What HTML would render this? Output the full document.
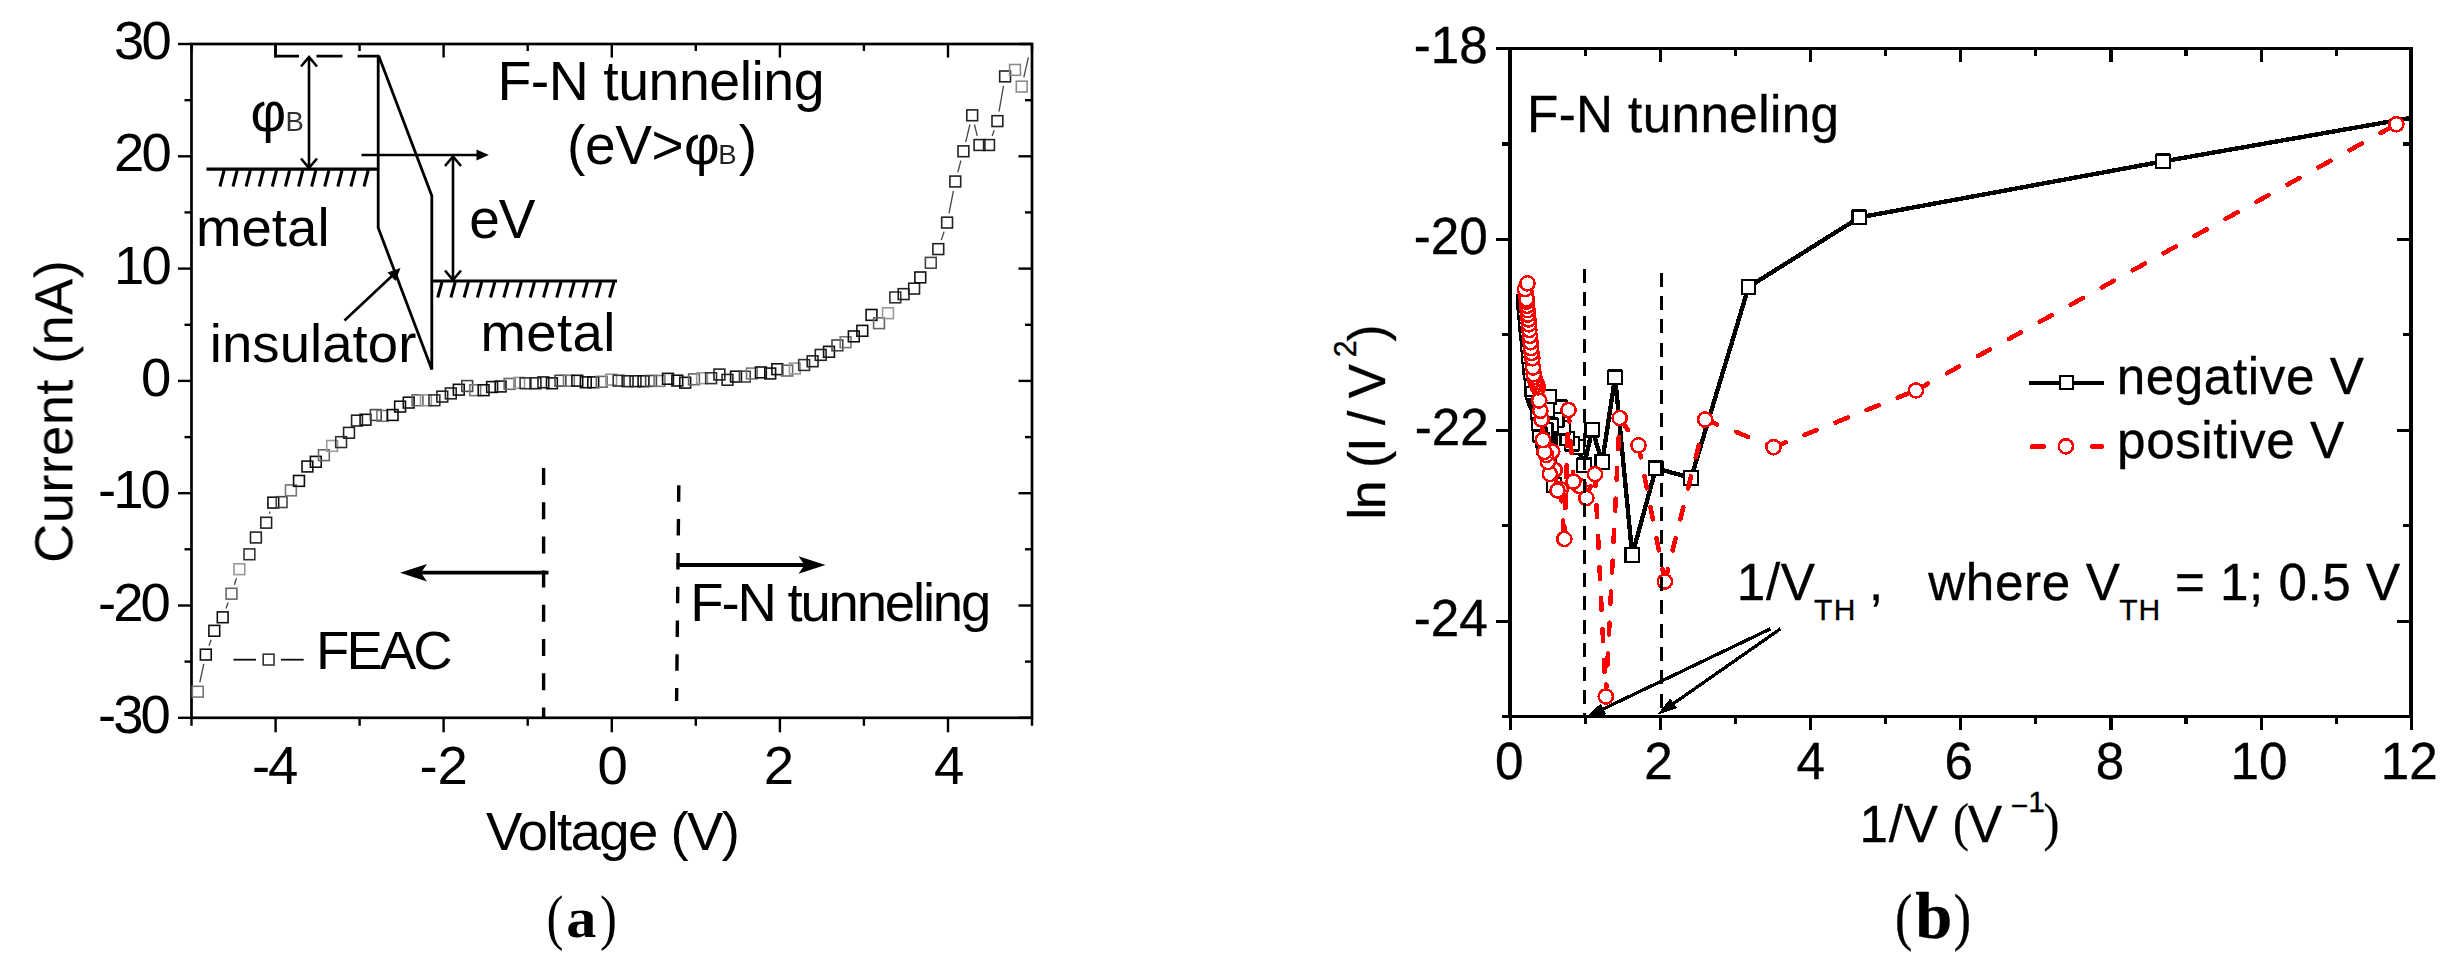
<!DOCTYPE html>
<html lang="en"><head><meta charset="utf-8"><title>F-N tunneling figure</title>
<style>
html,body{margin:0;padding:0;background:#fff;}
body{width:2456px;height:961px;overflow:hidden;}
svg{display:block;}
#plot-b text{stroke:#000;stroke-width:0.35px;}
</style></head><body>
<svg width="2456" height="961" viewBox="0 0 2456 961">
<defs><filter id="soft" x="0" y="0" width="2456" height="961" filterUnits="userSpaceOnUse"><feGaussianBlur stdDeviation="0.75"/></filter></defs>
<rect width="2456" height="961" fill="#fff"/>
<g id="plot-a" filter="url(#soft)">
<rect x="191.5" y="44.0" width="840.5" height="673.8" fill="none" stroke="#000" stroke-width="2.7"/>
<line x1="178.0" y1="717.8" x2="191.5" y2="717.8" stroke="#000" stroke-width="2.4" />
<line x1="1018.5" y1="717.8" x2="1032.0" y2="717.8" stroke="#000" stroke-width="2.4" />
<line x1="184.5" y1="661.6" x2="191.5" y2="661.6" stroke="#000" stroke-width="2.4" />
<line x1="1025.0" y1="661.6" x2="1032.0" y2="661.6" stroke="#000" stroke-width="2.4" />
<line x1="178.0" y1="605.5" x2="191.5" y2="605.5" stroke="#000" stroke-width="2.4" />
<line x1="1018.5" y1="605.5" x2="1032.0" y2="605.5" stroke="#000" stroke-width="2.4" />
<line x1="184.5" y1="549.3" x2="191.5" y2="549.3" stroke="#000" stroke-width="2.4" />
<line x1="1025.0" y1="549.3" x2="1032.0" y2="549.3" stroke="#000" stroke-width="2.4" />
<line x1="178.0" y1="493.2" x2="191.5" y2="493.2" stroke="#000" stroke-width="2.4" />
<line x1="1018.5" y1="493.2" x2="1032.0" y2="493.2" stroke="#000" stroke-width="2.4" />
<line x1="184.5" y1="437.1" x2="191.5" y2="437.1" stroke="#000" stroke-width="2.4" />
<line x1="1025.0" y1="437.1" x2="1032.0" y2="437.1" stroke="#000" stroke-width="2.4" />
<line x1="178.0" y1="380.9" x2="191.5" y2="380.9" stroke="#000" stroke-width="2.4" />
<line x1="1018.5" y1="380.9" x2="1032.0" y2="380.9" stroke="#000" stroke-width="2.4" />
<line x1="184.5" y1="324.8" x2="191.5" y2="324.8" stroke="#000" stroke-width="2.4" />
<line x1="1025.0" y1="324.8" x2="1032.0" y2="324.8" stroke="#000" stroke-width="2.4" />
<line x1="178.0" y1="268.6" x2="191.5" y2="268.6" stroke="#000" stroke-width="2.4" />
<line x1="1018.5" y1="268.6" x2="1032.0" y2="268.6" stroke="#000" stroke-width="2.4" />
<line x1="184.5" y1="212.4" x2="191.5" y2="212.4" stroke="#000" stroke-width="2.4" />
<line x1="1025.0" y1="212.4" x2="1032.0" y2="212.4" stroke="#000" stroke-width="2.4" />
<line x1="178.0" y1="156.3" x2="191.5" y2="156.3" stroke="#000" stroke-width="2.4" />
<line x1="1018.5" y1="156.3" x2="1032.0" y2="156.3" stroke="#000" stroke-width="2.4" />
<line x1="184.5" y1="100.2" x2="191.5" y2="100.2" stroke="#000" stroke-width="2.4" />
<line x1="1025.0" y1="100.2" x2="1032.0" y2="100.2" stroke="#000" stroke-width="2.4" />
<line x1="178.0" y1="44.0" x2="191.5" y2="44.0" stroke="#000" stroke-width="2.4" />
<line x1="1018.5" y1="44.0" x2="1032.0" y2="44.0" stroke="#000" stroke-width="2.4" />
<line x1="191.5" y1="717.8" x2="191.5" y2="725.8" stroke="#000" stroke-width="2.4" />
<line x1="191.5" y1="44.0" x2="191.5" y2="51.0" stroke="#000" stroke-width="2.4" />
<line x1="275.6" y1="717.8" x2="275.6" y2="732.3" stroke="#000" stroke-width="2.4" />
<line x1="275.6" y1="44.0" x2="275.6" y2="57.5" stroke="#000" stroke-width="2.4" />
<line x1="359.6" y1="717.8" x2="359.6" y2="725.8" stroke="#000" stroke-width="2.4" />
<line x1="359.6" y1="44.0" x2="359.6" y2="51.0" stroke="#000" stroke-width="2.4" />
<line x1="443.6" y1="717.8" x2="443.6" y2="732.3" stroke="#000" stroke-width="2.4" />
<line x1="443.6" y1="44.0" x2="443.6" y2="57.5" stroke="#000" stroke-width="2.4" />
<line x1="527.7" y1="717.8" x2="527.7" y2="725.8" stroke="#000" stroke-width="2.4" />
<line x1="527.7" y1="44.0" x2="527.7" y2="51.0" stroke="#000" stroke-width="2.4" />
<line x1="611.8" y1="717.8" x2="611.8" y2="732.3" stroke="#000" stroke-width="2.4" />
<line x1="611.8" y1="44.0" x2="611.8" y2="57.5" stroke="#000" stroke-width="2.4" />
<line x1="695.8" y1="717.8" x2="695.8" y2="725.8" stroke="#000" stroke-width="2.4" />
<line x1="695.8" y1="44.0" x2="695.8" y2="51.0" stroke="#000" stroke-width="2.4" />
<line x1="779.9" y1="717.8" x2="779.9" y2="732.3" stroke="#000" stroke-width="2.4" />
<line x1="779.9" y1="44.0" x2="779.9" y2="57.5" stroke="#000" stroke-width="2.4" />
<line x1="863.9" y1="717.8" x2="863.9" y2="725.8" stroke="#000" stroke-width="2.4" />
<line x1="863.9" y1="44.0" x2="863.9" y2="51.0" stroke="#000" stroke-width="2.4" />
<line x1="948.0" y1="717.8" x2="948.0" y2="732.3" stroke="#000" stroke-width="2.4" />
<line x1="948.0" y1="44.0" x2="948.0" y2="57.5" stroke="#000" stroke-width="2.4" />
<line x1="1032.0" y1="717.8" x2="1032.0" y2="725.8" stroke="#000" stroke-width="2.4" />
<line x1="1032.0" y1="44.0" x2="1032.0" y2="51.0" stroke="#000" stroke-width="2.4" />
<text x="97.9" y="732.8" font-size="54.5" fill="#000" font-family='"Liberation Sans", sans-serif' font-weight="normal" style="letter-spacing:-2.90px">-30</text>
<text x="97.9" y="620.5" font-size="54.5" fill="#000" font-family='"Liberation Sans", sans-serif' font-weight="normal" style="letter-spacing:-2.90px">-20</text>
<text x="97.9" y="508.2" font-size="54.5" fill="#000" font-family='"Liberation Sans", sans-serif' font-weight="normal" style="letter-spacing:-2.90px">-10</text>
<text x="141.1" y="395.9" font-size="54.5" fill="#000" font-family='"Liberation Sans", sans-serif' font-weight="normal" style="letter-spacing:-2.90px">0</text>
<text x="114.0" y="283.6" font-size="54.5" fill="#000" font-family='"Liberation Sans", sans-serif' font-weight="normal" style="letter-spacing:-2.90px">10</text>
<text x="114.0" y="171.3" font-size="54.5" fill="#000" font-family='"Liberation Sans", sans-serif' font-weight="normal" style="letter-spacing:-2.90px">20</text>
<text x="114.0" y="59.0" font-size="54.5" fill="#000" font-family='"Liberation Sans", sans-serif' font-weight="normal" style="letter-spacing:-2.90px">30</text>
<text x="252.0" y="784.2" font-size="54.5" fill="#000" font-family='"Liberation Sans", sans-serif' font-weight="normal" style="letter-spacing:-2.20px">-4</text>
<text x="419.5" y="784.2" font-size="54.5" fill="#000" font-family='"Liberation Sans", sans-serif' font-weight="normal" style="letter-spacing:-0.20px">-2</text>
<text x="597.5" y="784.2" font-size="54.5" fill="#000" font-family='"Liberation Sans", sans-serif' font-weight="normal" style="">0</text>
<text x="763.8" y="784.2" font-size="54.5" fill="#000" font-family='"Liberation Sans", sans-serif' font-weight="normal" style="">2</text>
<text x="934.1" y="784.2" font-size="54.5" fill="#000" font-family='"Liberation Sans", sans-serif' font-weight="normal" style="">4</text>
<text x="485.9" y="850.3" font-size="54.5" fill="#000" font-family='"Liberation Sans", sans-serif' font-weight="normal" style="letter-spacing:-1.56px">Voltage (V)</text>
<text transform="translate(72.4,563.0) rotate(-90)" font-size="54.5" fill="#000" font-family='"Liberation Sans", sans-serif' font-weight="normal" style="letter-spacing:0.27px">Current (nA)</text>
<line x1="199.8" y1="682.4" x2="203.8" y2="663.9" stroke="#444" stroke-width="1.3" />
<line x1="209.0" y1="645.7" x2="211.1" y2="639.7" stroke="#444" stroke-width="1.3" />
<line x1="226.0" y1="608.4" x2="228.2" y2="602.6" stroke="#444" stroke-width="1.3" />
<line x1="234.4" y1="584.7" x2="236.5" y2="578.2" stroke="#444" stroke-width="1.3" />
<line x1="269.4" y1="513.7" x2="270.1" y2="511.6" stroke="#444" stroke-width="1.3" />
<line x1="941.3" y1="240.1" x2="944.1" y2="231.6" stroke="#444" stroke-width="1.3" />
<line x1="949.0" y1="213.3" x2="953.4" y2="190.8" stroke="#444" stroke-width="1.3" />
<line x1="957.8" y1="172.3" x2="960.9" y2="160.5" stroke="#444" stroke-width="1.3" />
<line x1="965.7" y1="142.1" x2="969.9" y2="124.5" stroke="#444" stroke-width="1.3" />
<line x1="974.5" y1="124.5" x2="977.2" y2="135.8" stroke="#444" stroke-width="1.3" />
<line x1="992.2" y1="136.0" x2="994.2" y2="130.1" stroke="#444" stroke-width="1.3" />
<line x1="999.0" y1="111.7" x2="1003.5" y2="85.8" stroke="#444" stroke-width="1.3" />
<line x1="1023.8" y1="77.3" x2="1028.4" y2="57.3" stroke="#444" stroke-width="1.3" />
<rect x="192.4" y="686.3" width="10.8" height="10.8" fill="none" stroke="#777" stroke-width="1.6"/>
<rect x="200.4" y="649.2" width="10.8" height="10.8" fill="none" stroke="#111" stroke-width="1.6"/>
<rect x="208.9" y="625.4" width="10.8" height="10.8" fill="none" stroke="#111" stroke-width="1.6"/>
<rect x="217.3" y="611.9" width="10.8" height="10.8" fill="none" stroke="#111" stroke-width="1.6"/>
<rect x="226.1" y="588.3" width="10.8" height="10.8" fill="none" stroke="#666" stroke-width="1.6"/>
<rect x="234.0" y="563.8" width="10.8" height="10.8" fill="none" stroke="#999" stroke-width="1.6"/>
<rect x="244.0" y="548.9" width="10.8" height="10.8" fill="none" stroke="#333" stroke-width="1.6"/>
<rect x="250.5" y="532.1" width="10.8" height="10.8" fill="none" stroke="#222" stroke-width="1.6"/>
<rect x="260.8" y="517.3" width="10.8" height="10.8" fill="none" stroke="#222" stroke-width="1.6"/>
<rect x="267.9" y="497.2" width="10.8" height="10.8" fill="none" stroke="#111" stroke-width="1.6"/>
<rect x="276.2" y="496.7" width="10.8" height="10.8" fill="none" stroke="#444" stroke-width="1.6"/>
<rect x="285.5" y="485.0" width="10.8" height="10.8" fill="none" stroke="#777" stroke-width="1.6"/>
<rect x="293.6" y="475.5" width="10.8" height="10.8" fill="none" stroke="#111" stroke-width="1.6"/>
<rect x="302.0" y="461.1" width="10.8" height="10.8" fill="none" stroke="#111" stroke-width="1.6"/>
<rect x="310.4" y="456.4" width="10.8" height="10.8" fill="none" stroke="#111" stroke-width="1.6"/>
<rect x="318.5" y="449.8" width="10.8" height="10.8" fill="none" stroke="#666" stroke-width="1.6"/>
<rect x="326.7" y="440.5" width="10.8" height="10.8" fill="none" stroke="#999" stroke-width="1.6"/>
<rect x="335.7" y="436.7" width="10.8" height="10.8" fill="none" stroke="#333" stroke-width="1.6"/>
<rect x="343.6" y="427.4" width="10.8" height="10.8" fill="none" stroke="#222" stroke-width="1.6"/>
<rect x="351.6" y="415.2" width="10.8" height="10.8" fill="none" stroke="#222" stroke-width="1.6"/>
<rect x="360.1" y="414.3" width="10.8" height="10.8" fill="none" stroke="#111" stroke-width="1.6"/>
<rect x="370.4" y="409.6" width="10.8" height="10.8" fill="none" stroke="#444" stroke-width="1.6"/>
<rect x="376.9" y="410.5" width="10.8" height="10.8" fill="none" stroke="#777" stroke-width="1.6"/>
<rect x="387.2" y="409.6" width="10.8" height="10.8" fill="none" stroke="#111" stroke-width="1.6"/>
<rect x="394.7" y="401.2" width="10.8" height="10.8" fill="none" stroke="#111" stroke-width="1.6"/>
<rect x="403.3" y="397.2" width="10.8" height="10.8" fill="none" stroke="#111" stroke-width="1.6"/>
<rect x="412.1" y="394.9" width="10.8" height="10.8" fill="none" stroke="#666" stroke-width="1.6"/>
<rect x="420.5" y="394.9" width="10.8" height="10.8" fill="none" stroke="#999" stroke-width="1.6"/>
<rect x="429.0" y="394.9" width="10.8" height="10.8" fill="none" stroke="#333" stroke-width="1.6"/>
<rect x="436.9" y="391.2" width="10.8" height="10.8" fill="none" stroke="#222" stroke-width="1.6"/>
<rect x="445.4" y="388.0" width="10.8" height="10.8" fill="none" stroke="#222" stroke-width="1.6"/>
<rect x="453.4" y="384.3" width="10.8" height="10.8" fill="none" stroke="#111" stroke-width="1.6"/>
<rect x="461.8" y="380.6" width="10.8" height="10.8" fill="none" stroke="#444" stroke-width="1.6"/>
<rect x="469.8" y="384.8" width="10.8" height="10.8" fill="none" stroke="#777" stroke-width="1.6"/>
<rect x="478.2" y="384.8" width="10.8" height="10.8" fill="none" stroke="#111" stroke-width="1.6"/>
<rect x="486.7" y="381.6" width="10.8" height="10.8" fill="none" stroke="#111" stroke-width="1.6"/>
<rect x="495.2" y="381.1" width="10.8" height="10.8" fill="none" stroke="#111" stroke-width="1.6"/>
<rect x="504.2" y="378.5" width="10.8" height="10.8" fill="none" stroke="#666" stroke-width="1.6"/>
<rect x="513.7" y="377.4" width="10.8" height="10.8" fill="none" stroke="#999" stroke-width="1.6"/>
<rect x="520.1" y="377.9" width="10.8" height="10.8" fill="none" stroke="#333" stroke-width="1.6"/>
<rect x="530.1" y="377.9" width="10.8" height="10.8" fill="none" stroke="#222" stroke-width="1.6"/>
<rect x="538.0" y="376.9" width="10.8" height="10.8" fill="none" stroke="#222" stroke-width="1.6"/>
<rect x="546.5" y="377.9" width="10.8" height="10.8" fill="none" stroke="#111" stroke-width="1.6"/>
<rect x="555.0" y="375.3" width="10.8" height="10.8" fill="none" stroke="#444" stroke-width="1.6"/>
<rect x="563.5" y="375.3" width="10.8" height="10.8" fill="none" stroke="#777" stroke-width="1.6"/>
<rect x="571.9" y="375.3" width="10.8" height="10.8" fill="none" stroke="#111" stroke-width="1.6"/>
<rect x="580.4" y="376.9" width="10.8" height="10.8" fill="none" stroke="#111" stroke-width="1.6"/>
<rect x="587.8" y="376.9" width="10.8" height="10.8" fill="none" stroke="#111" stroke-width="1.6"/>
<rect x="596.3" y="376.4" width="10.8" height="10.8" fill="none" stroke="#666" stroke-width="1.6"/>
<rect x="605.8" y="374.2" width="10.8" height="10.8" fill="none" stroke="#999" stroke-width="1.6"/>
<rect x="613.2" y="375.3" width="10.8" height="10.8" fill="none" stroke="#333" stroke-width="1.6"/>
<rect x="622.2" y="375.8" width="10.8" height="10.8" fill="none" stroke="#222" stroke-width="1.6"/>
<rect x="630.1" y="375.8" width="10.8" height="10.8" fill="none" stroke="#222" stroke-width="1.6"/>
<rect x="638.1" y="375.8" width="10.8" height="10.8" fill="none" stroke="#111" stroke-width="1.6"/>
<rect x="645.6" y="375.5" width="10.8" height="10.8" fill="none" stroke="#444" stroke-width="1.6"/>
<rect x="654.1" y="375.5" width="10.8" height="10.8" fill="none" stroke="#777" stroke-width="1.6"/>
<rect x="662.6" y="373.4" width="10.8" height="10.8" fill="none" stroke="#111" stroke-width="1.6"/>
<rect x="671.9" y="375.2" width="10.8" height="10.8" fill="none" stroke="#111" stroke-width="1.6"/>
<rect x="679.8" y="377.3" width="10.8" height="10.8" fill="none" stroke="#111" stroke-width="1.6"/>
<rect x="688.6" y="373.9" width="10.8" height="10.8" fill="none" stroke="#666" stroke-width="1.6"/>
<rect x="696.7" y="372.8" width="10.8" height="10.8" fill="none" stroke="#999" stroke-width="1.6"/>
<rect x="705.7" y="372.8" width="10.8" height="10.8" fill="none" stroke="#333" stroke-width="1.6"/>
<rect x="714.0" y="369.1" width="10.8" height="10.8" fill="none" stroke="#222" stroke-width="1.6"/>
<rect x="722.1" y="374.4" width="10.8" height="10.8" fill="none" stroke="#222" stroke-width="1.6"/>
<rect x="730.6" y="371.2" width="10.8" height="10.8" fill="none" stroke="#111" stroke-width="1.6"/>
<rect x="739.4" y="371.2" width="10.8" height="10.8" fill="none" stroke="#444" stroke-width="1.6"/>
<rect x="746.5" y="368.1" width="10.8" height="10.8" fill="none" stroke="#777" stroke-width="1.6"/>
<rect x="755.5" y="367.0" width="10.8" height="10.8" fill="none" stroke="#111" stroke-width="1.6"/>
<rect x="764.8" y="368.1" width="10.8" height="10.8" fill="none" stroke="#111" stroke-width="1.6"/>
<rect x="771.9" y="363.8" width="10.8" height="10.8" fill="none" stroke="#111" stroke-width="1.6"/>
<rect x="781.8" y="365.2" width="10.8" height="10.8" fill="none" stroke="#666" stroke-width="1.6"/>
<rect x="789.4" y="363.1" width="10.8" height="10.8" fill="none" stroke="#999" stroke-width="1.6"/>
<rect x="798.7" y="359.6" width="10.8" height="10.8" fill="none" stroke="#333" stroke-width="1.6"/>
<rect x="807.2" y="355.9" width="10.8" height="10.8" fill="none" stroke="#222" stroke-width="1.6"/>
<rect x="815.3" y="349.5" width="10.8" height="10.8" fill="none" stroke="#222" stroke-width="1.6"/>
<rect x="823.6" y="346.4" width="10.8" height="10.8" fill="none" stroke="#111" stroke-width="1.6"/>
<rect x="832.0" y="340.0" width="10.8" height="10.8" fill="none" stroke="#444" stroke-width="1.6"/>
<rect x="840.2" y="336.8" width="10.8" height="10.8" fill="none" stroke="#777" stroke-width="1.6"/>
<rect x="848.4" y="331.0" width="10.8" height="10.8" fill="none" stroke="#111" stroke-width="1.6"/>
<rect x="856.9" y="325.4" width="10.8" height="10.8" fill="none" stroke="#111" stroke-width="1.6"/>
<rect x="866.1" y="309.5" width="10.8" height="10.8" fill="none" stroke="#111" stroke-width="1.6"/>
<rect x="873.6" y="317.8" width="10.8" height="10.8" fill="none" stroke="#666" stroke-width="1.6"/>
<rect x="882.6" y="307.8" width="10.8" height="10.8" fill="none" stroke="#999" stroke-width="1.6"/>
<rect x="889.9" y="292.0" width="10.8" height="10.8" fill="none" stroke="#333" stroke-width="1.6"/>
<rect x="898.2" y="288.7" width="10.8" height="10.8" fill="none" stroke="#222" stroke-width="1.6"/>
<rect x="908.7" y="283.2" width="10.8" height="10.8" fill="none" stroke="#222" stroke-width="1.6"/>
<rect x="914.9" y="272.0" width="10.8" height="10.8" fill="none" stroke="#111" stroke-width="1.6"/>
<rect x="925.4" y="257.4" width="10.8" height="10.8" fill="none" stroke="#444" stroke-width="1.6"/>
<rect x="932.9" y="243.7" width="10.8" height="10.8" fill="none" stroke="#222" stroke-width="1.6"/>
<rect x="941.7" y="217.2" width="10.8" height="10.8" fill="none" stroke="#222" stroke-width="1.6"/>
<rect x="949.9" y="176.1" width="10.8" height="10.8" fill="none" stroke="#222" stroke-width="1.6"/>
<rect x="958.0" y="145.9" width="10.8" height="10.8" fill="none" stroke="#222" stroke-width="1.6"/>
<rect x="966.8" y="109.9" width="10.8" height="10.8" fill="none" stroke="#222" stroke-width="1.6"/>
<rect x="974.1" y="139.6" width="10.8" height="10.8" fill="none" stroke="#222" stroke-width="1.6"/>
<rect x="983.6" y="139.6" width="10.8" height="10.8" fill="none" stroke="#222" stroke-width="1.6"/>
<rect x="992.0" y="115.7" width="10.8" height="10.8" fill="none" stroke="#222" stroke-width="1.6"/>
<rect x="999.7" y="71.0" width="10.8" height="10.8" fill="none" stroke="#222" stroke-width="1.6"/>
<rect x="1009.6" y="64.5" width="10.8" height="10.8" fill="none" stroke="#8a8a8a" stroke-width="1.6"/>
<rect x="1016.3" y="81.2" width="10.8" height="10.8" fill="none" stroke="#8a8a8a" stroke-width="1.6"/>
<line x1="233.5" y1="659.7" x2="256.0" y2="659.7" stroke="#111" stroke-width="1.8" />
<line x1="281.0" y1="659.7" x2="303.7" y2="659.7" stroke="#111" stroke-width="1.8" />
<rect x="263.2" y="654.2" width="10.8" height="10.8" fill="none" stroke="#333" stroke-width="1.6"/>
<text x="316.0" y="669.0" font-size="54.5" fill="#000" font-family='"Liberation Sans", sans-serif' font-weight="normal" style="letter-spacing:-2.90px">FEAC</text>
<text x="497.4" y="99.6" font-size="55.5" fill="#000" font-family='"Liberation Sans", sans-serif' font-weight="normal" style="letter-spacing:-0.50px">F-N tunneling</text>
<text x="567.1" y="164.4" font-size="55" fill="#000" font-family='"Liberation Sans", sans-serif' font-weight="normal" style="letter-spacing:-0.43px">(eV&gt;</text>
<text x="683.9" y="164.4" font-size="55" fill="#000" font-family='"Liberation Sans", sans-serif' font-weight="normal" style="">φ</text>
<text x="718.2" y="164.4" font-size="27.5" fill="#222" font-family='"Liberation Sans", sans-serif' font-weight="normal" style="">B</text>
<text x="738.8" y="164.4" font-size="55" fill="#000" font-family='"Liberation Sans", sans-serif' font-weight="normal" style="">)</text>
<path d="M275.5 44 V56.2 H299 M316.5 56.2 H342.5 M357.5 56.2 H379" fill="none" stroke="#000" stroke-width="2.8"/>
<path d="M378.2 55 V227.8 L431.8 369.5 V195.7 L378.8 56" fill="none" stroke="#000" stroke-width="2.8" stroke-linejoin="miter"/>
<line x1="206.5" y1="169.2" x2="379.0" y2="169.2" stroke="#000" stroke-width="3.2" />
<line x1="224.2" y1="170.0" x2="219.9" y2="186.5" stroke="#000" stroke-width="3.0" />
<line x1="237.3" y1="170.0" x2="233.0" y2="186.5" stroke="#000" stroke-width="3.0" />
<line x1="250.4" y1="170.0" x2="246.1" y2="186.5" stroke="#000" stroke-width="3.0" />
<line x1="263.5" y1="170.0" x2="259.2" y2="186.5" stroke="#000" stroke-width="3.0" />
<line x1="276.6" y1="170.0" x2="272.3" y2="186.5" stroke="#000" stroke-width="3.0" />
<line x1="289.7" y1="170.0" x2="285.4" y2="186.5" stroke="#000" stroke-width="3.0" />
<line x1="302.8" y1="170.0" x2="298.5" y2="186.5" stroke="#000" stroke-width="3.0" />
<line x1="315.9" y1="170.0" x2="311.6" y2="186.5" stroke="#000" stroke-width="3.0" />
<line x1="329.0" y1="170.0" x2="324.7" y2="186.5" stroke="#000" stroke-width="3.0" />
<line x1="342.1" y1="170.0" x2="337.8" y2="186.5" stroke="#000" stroke-width="3.0" />
<line x1="355.2" y1="170.0" x2="350.9" y2="186.5" stroke="#000" stroke-width="3.0" />
<line x1="368.3" y1="170.0" x2="364.0" y2="186.5" stroke="#000" stroke-width="3.0" />
<line x1="431.0" y1="281.0" x2="617.0" y2="281.0" stroke="#000" stroke-width="3.2" />
<line x1="442.0" y1="282.0" x2="437.7" y2="297.5" stroke="#000" stroke-width="3.0" />
<line x1="455.2" y1="282.0" x2="450.9" y2="297.5" stroke="#000" stroke-width="3.0" />
<line x1="468.4" y1="282.0" x2="464.1" y2="297.5" stroke="#000" stroke-width="3.0" />
<line x1="481.7" y1="282.0" x2="477.4" y2="297.5" stroke="#000" stroke-width="3.0" />
<line x1="494.9" y1="282.0" x2="490.6" y2="297.5" stroke="#000" stroke-width="3.0" />
<line x1="508.1" y1="282.0" x2="503.8" y2="297.5" stroke="#000" stroke-width="3.0" />
<line x1="521.3" y1="282.0" x2="517.0" y2="297.5" stroke="#000" stroke-width="3.0" />
<line x1="534.5" y1="282.0" x2="530.2" y2="297.5" stroke="#000" stroke-width="3.0" />
<line x1="547.8" y1="282.0" x2="543.5" y2="297.5" stroke="#000" stroke-width="3.0" />
<line x1="561.0" y1="282.0" x2="556.7" y2="297.5" stroke="#000" stroke-width="3.0" />
<line x1="574.2" y1="282.0" x2="569.9" y2="297.5" stroke="#000" stroke-width="3.0" />
<line x1="587.4" y1="282.0" x2="583.1" y2="297.5" stroke="#000" stroke-width="3.0" />
<line x1="600.6" y1="282.0" x2="596.3" y2="297.5" stroke="#000" stroke-width="3.0" />
<line x1="613.9" y1="282.0" x2="609.6" y2="297.5" stroke="#000" stroke-width="3.0" />
<line x1="309.0" y1="57.5" x2="309.0" y2="167.5" stroke="#000" stroke-width="2.6" />
<path d="M301 66.5 L309 57 L317 66.5 M301 158.5 L309 168 L317 158.5" fill="none" stroke="#000" stroke-width="2.6"/>
<text x="250.4" y="130.8" font-size="55" fill="#000" font-family='"Liberation Sans", sans-serif' font-weight="normal" style="">φ</text>
<text x="285.4" y="130.8" font-size="27.5" fill="#333" font-family='"Liberation Sans", sans-serif' font-weight="normal" style="">B</text>
<line x1="361.5" y1="155.0" x2="478.0" y2="155.0" stroke="#000" stroke-width="2.4" />
<path d="M488.8 155 L476.5 149.6 L476.5 160.4 Z" fill="#000"/>
<line x1="453.0" y1="156.5" x2="453.0" y2="279.5" stroke="#000" stroke-width="2.6" />
<path d="M445 166 L453 156.5 L461 166 M445 270.5 L453 280 L461 270.5" fill="none" stroke="#000" stroke-width="2.6"/>
<text x="469.3" y="238.3" font-size="55" fill="#000" font-family='"Liberation Sans", sans-serif' font-weight="normal" style="letter-spacing:-1.10px">eV</text>
<text x="195.9" y="246.3" font-size="54.5" fill="#000" font-family='"Liberation Sans", sans-serif' font-weight="normal" style="letter-spacing:0.12px">metal</text>
<text x="480.6" y="350.8" font-size="54.5" fill="#000" font-family='"Liberation Sans", sans-serif' font-weight="normal" style="letter-spacing:0.35px">metal</text>
<text x="209.7" y="362.0" font-size="54.5" fill="#000" font-family='"Liberation Sans", sans-serif' font-weight="normal" style="letter-spacing:0.09px">insulator</text>
<line x1="344.5" y1="320.5" x2="393.0" y2="275.0" stroke="#000" stroke-width="2.6" />
<path d="M400.5 268 L387.5 272.5 L395.5 281 Z" fill="#000"/>
<path d="M543.6 468 V718" stroke="#000" stroke-width="3.4" stroke-dasharray="17 17.2" fill="none"/>
<path d="M678.8 485.3 L676.6 701" stroke="#000" stroke-width="3.4" stroke-dasharray="16.5 17.3" fill="none"/>
<line x1="418.0" y1="572.7" x2="548.5" y2="572.7" stroke="#000" stroke-width="3.8" />
<path d="M400 572.7 L427 564 L421 572.7 L427 581.4 Z" fill="#000"/>
<line x1="676.5" y1="565.0" x2="808.0" y2="565.0" stroke="#000" stroke-width="3.8" />
<path d="M825.5 565 L798.5 556.3 L804.5 565 L798.5 573.7 Z" fill="#000"/>
<text x="690.3" y="621.2" font-size="54.5" fill="#000" font-family='"Liberation Sans", sans-serif' font-weight="normal" style="letter-spacing:-2.18px">F-N tunneling</text>
</g>
<text transform="translate(546.4,937.6) scale(0.82,1)" font-size="62" fill="#000" font-family='"Liberation Serif", serif' font-weight="normal" style="">(</text>
<text transform="translate(566.2,937.3) scale(1.04,1)" font-size="58" fill="#000" font-family='"Liberation Serif", serif' font-weight="bold" style="">a</text>
<text transform="translate(599.9,937.6) scale(0.82,1)" font-size="62" fill="#000" font-family='"Liberation Serif", serif' font-weight="normal" style="">)</text>
<g id="plot-b" style="stroke-linejoin:round" shape-rendering="crispEdges">
<rect x="1510.1" y="48.5" width="901.2" height="668.1" fill="none" stroke="#000" stroke-width="3.7" shape-rendering="crispEdges"/>
<line x1="1502.1" y1="716.6" x2="1510.1" y2="716.6" stroke="#000" stroke-width="3.2" />
<line x1="2403.3" y1="716.6" x2="2411.3" y2="716.6" stroke="#000" stroke-width="3.2" />
<line x1="1496.1" y1="621.2" x2="1510.1" y2="621.2" stroke="#000" stroke-width="3.2" />
<line x1="2397.3" y1="621.2" x2="2411.3" y2="621.2" stroke="#000" stroke-width="3.2" />
<line x1="1502.1" y1="525.7" x2="1510.1" y2="525.7" stroke="#000" stroke-width="3.2" />
<line x1="2403.3" y1="525.7" x2="2411.3" y2="525.7" stroke="#000" stroke-width="3.2" />
<line x1="1496.1" y1="430.3" x2="1510.1" y2="430.3" stroke="#000" stroke-width="3.2" />
<line x1="2397.3" y1="430.3" x2="2411.3" y2="430.3" stroke="#000" stroke-width="3.2" />
<line x1="1502.1" y1="334.8" x2="1510.1" y2="334.8" stroke="#000" stroke-width="3.2" />
<line x1="2403.3" y1="334.8" x2="2411.3" y2="334.8" stroke="#000" stroke-width="3.2" />
<line x1="1496.1" y1="239.4" x2="1510.1" y2="239.4" stroke="#000" stroke-width="3.2" />
<line x1="2397.3" y1="239.4" x2="2411.3" y2="239.4" stroke="#000" stroke-width="3.2" />
<line x1="1502.1" y1="143.9" x2="1510.1" y2="143.9" stroke="#000" stroke-width="3.2" />
<line x1="2403.3" y1="143.9" x2="2411.3" y2="143.9" stroke="#000" stroke-width="3.2" />
<line x1="1496.1" y1="48.5" x2="1510.1" y2="48.5" stroke="#000" stroke-width="3.2" />
<line x1="2397.3" y1="48.5" x2="2411.3" y2="48.5" stroke="#000" stroke-width="3.2" />
<line x1="1510.1" y1="716.6" x2="1510.1" y2="730.1" stroke="#000" stroke-width="3.2" />
<line x1="1510.1" y1="48.5" x2="1510.1" y2="62.0" stroke="#000" stroke-width="3.2" />
<line x1="1585.2" y1="716.6" x2="1585.2" y2="724.1" stroke="#000" stroke-width="3.2" />
<line x1="1585.2" y1="48.5" x2="1585.2" y2="56.0" stroke="#000" stroke-width="3.2" />
<line x1="1660.3" y1="716.6" x2="1660.3" y2="730.1" stroke="#000" stroke-width="3.2" />
<line x1="1660.3" y1="48.5" x2="1660.3" y2="62.0" stroke="#000" stroke-width="3.2" />
<line x1="1735.4" y1="716.6" x2="1735.4" y2="724.1" stroke="#000" stroke-width="3.2" />
<line x1="1735.4" y1="48.5" x2="1735.4" y2="56.0" stroke="#000" stroke-width="3.2" />
<line x1="1810.5" y1="716.6" x2="1810.5" y2="730.1" stroke="#000" stroke-width="3.2" />
<line x1="1810.5" y1="48.5" x2="1810.5" y2="62.0" stroke="#000" stroke-width="3.2" />
<line x1="1885.6" y1="716.6" x2="1885.6" y2="724.1" stroke="#000" stroke-width="3.2" />
<line x1="1885.6" y1="48.5" x2="1885.6" y2="56.0" stroke="#000" stroke-width="3.2" />
<line x1="1960.7" y1="716.6" x2="1960.7" y2="730.1" stroke="#000" stroke-width="3.2" />
<line x1="1960.7" y1="48.5" x2="1960.7" y2="62.0" stroke="#000" stroke-width="3.2" />
<line x1="2035.8" y1="716.6" x2="2035.8" y2="724.1" stroke="#000" stroke-width="3.2" />
<line x1="2035.8" y1="48.5" x2="2035.8" y2="56.0" stroke="#000" stroke-width="3.2" />
<line x1="2110.9" y1="716.6" x2="2110.9" y2="730.1" stroke="#000" stroke-width="3.2" />
<line x1="2110.9" y1="48.5" x2="2110.9" y2="62.0" stroke="#000" stroke-width="3.2" />
<line x1="2186.0" y1="716.6" x2="2186.0" y2="724.1" stroke="#000" stroke-width="3.2" />
<line x1="2186.0" y1="48.5" x2="2186.0" y2="56.0" stroke="#000" stroke-width="3.2" />
<line x1="2261.1" y1="716.6" x2="2261.1" y2="730.1" stroke="#000" stroke-width="3.2" />
<line x1="2261.1" y1="48.5" x2="2261.1" y2="62.0" stroke="#000" stroke-width="3.2" />
<line x1="2336.2" y1="716.6" x2="2336.2" y2="724.1" stroke="#000" stroke-width="3.2" />
<line x1="2336.2" y1="48.5" x2="2336.2" y2="56.0" stroke="#000" stroke-width="3.2" />
<line x1="2411.3" y1="716.6" x2="2411.3" y2="730.1" stroke="#000" stroke-width="3.2" />
<line x1="2411.3" y1="48.5" x2="2411.3" y2="62.0" stroke="#000" stroke-width="3.2" />
<text x="1413.7" y="635.6" font-size="51.2" fill="#000" font-family='"Liberation Sans", sans-serif' font-weight="normal" style="">-24</text>
<text x="1414.7" y="444.7" font-size="51.2" fill="#000" font-family='"Liberation Sans", sans-serif' font-weight="normal" style="">-22</text>
<text x="1413.7" y="253.8" font-size="51.2" fill="#000" font-family='"Liberation Sans", sans-serif' font-weight="normal" style="">-20</text>
<text x="1413.7" y="62.9" font-size="51.2" fill="#000" font-family='"Liberation Sans", sans-serif' font-weight="normal" style="">-18</text>
<text x="1495.0" y="778.6" font-size="51.2" fill="#000" font-family='"Liberation Sans", sans-serif' font-weight="normal" style="">0</text>
<text x="1644.2" y="778.6" font-size="51.2" fill="#000" font-family='"Liberation Sans", sans-serif' font-weight="normal" style="">2</text>
<text x="1796.4" y="778.6" font-size="51.2" fill="#000" font-family='"Liberation Sans", sans-serif' font-weight="normal" style="">4</text>
<text x="1944.6" y="778.6" font-size="51.2" fill="#000" font-family='"Liberation Sans", sans-serif' font-weight="normal" style="">6</text>
<text x="2095.8" y="778.6" font-size="51.2" fill="#000" font-family='"Liberation Sans", sans-serif' font-weight="normal" style="">8</text>
<text x="2230.5" y="778.6" font-size="51.2" fill="#000" font-family='"Liberation Sans", sans-serif' font-weight="normal" style="">10</text>
<text x="2380.7" y="778.6" font-size="51.2" fill="#000" font-family='"Liberation Sans", sans-serif' font-weight="normal" style="">12</text>
<text x="1527.0" y="131.7" font-size="51.2" fill="#000" font-family='"Liberation Sans", sans-serif' font-weight="normal" style="letter-spacing:0.40px">F-N tunneling</text>
<text transform="translate(1384.7,519.5) rotate(-90)" font-size="51.2" fill="#000" font-family='"Liberation Sans", sans-serif' font-weight="normal" style="letter-spacing:-0.84px">ln (I / V</text>
<text transform="translate(1356.0,357.3) rotate(-90)" font-size="30.5" fill="#000" font-family='"Liberation Sans", sans-serif' font-weight="normal" style="">2</text>
<text transform="translate(1384.7,341.6) rotate(-90)" font-size="51.2" fill="#000" font-family='"Liberation Sans", sans-serif' font-weight="normal" style="">)</text>
<text x="1859.5" y="841.8" font-size="51.2" fill="#000" font-family='"Liberation Sans", sans-serif' font-weight="normal" style="letter-spacing:0.75px">1/V</text>
<text transform="translate(1953.1,840.3) scale(0.9,1)" font-size="53" fill="#000" font-family='"Liberation Serif", serif' font-weight="normal" style="">(</text>
<text x="1968.1" y="841.8" font-size="51.2" fill="#000" font-family='"Liberation Sans", sans-serif' font-weight="normal" style="">V</text>
<text x="2010.8" y="815.5" font-size="30" fill="#000" font-family='"Liberation Sans", sans-serif' font-weight="normal" style="">−</text>
<text x="2028.3" y="812.4" font-size="30" fill="#000" font-family='"Liberation Sans", sans-serif' font-weight="normal" style="">1</text>
<text transform="translate(2043.6,840.3) scale(0.9,1)" font-size="53" fill="#000" font-family='"Liberation Serif", serif' font-weight="normal" style="">)</text>
<clipPath id="clipb"><rect x="1510.1" y="48.5" width="901.2" height="668.1"/></clipPath>
<g clip-path="url(#clipb)">
<polyline fill="none" stroke="#000" stroke-width="4.4" stroke-linejoin="round" points="2420.0,116.3 2163.1,161.4 1859.4,217.4 1748.5,287.0 1691.1,478.0 1655.9,468.2 1632.2,555.0 1615.1,377.3 1602.2,462.0 1592.2,429.7 1584.1,465.2 1577.5,447.0 1571.9,443.6 1567.2,438.5 1563.2,427.6 1559.7,407.2 1556.6,420.0 1553.9,485.0 1551.5,425.4 1549.3,397.0 1547.4,410.0 1545.6,430.0 1544.0,447.0 1542.5,440.0 1540.0,434.6 1538.8,423.6 1537.6,411.8 1536.6,402.6 1535.6,400.0 1534.7,397.7 1533.8,394.8 1533.0,392.1 1532.3,389.5 1531.6,380.1 1530.9,372.6 1530.3,367.5 1529.7,362.6 1529.1,356.3 1528.6,350.1 1528.1,344.1 1527.6,338.8 1527.2,333.9 1526.7,329.2 1526.3,324.8 1525.9,320.5 1525.5,316.4 1525.2,312.6 1524.8,308.9 1524.5,305.4 1524.2,302.0"/>
</g>
<rect x="2156.3" y="154.6" width="13.6" height="13.6" fill="#fff" stroke="#000" stroke-width="2.3"/>
<rect x="1852.6" y="210.6" width="13.6" height="13.6" fill="#fff" stroke="#000" stroke-width="2.3"/>
<rect x="1741.7" y="280.2" width="13.6" height="13.6" fill="#fff" stroke="#000" stroke-width="2.3"/>
<rect x="1684.3" y="471.2" width="13.6" height="13.6" fill="#fff" stroke="#000" stroke-width="2.3"/>
<rect x="1649.1" y="461.4" width="13.6" height="13.6" fill="#fff" stroke="#000" stroke-width="2.3"/>
<rect x="1625.4" y="548.2" width="13.6" height="13.6" fill="#fff" stroke="#000" stroke-width="2.3"/>
<rect x="1608.3" y="370.5" width="13.6" height="13.6" fill="#fff" stroke="#000" stroke-width="2.3"/>
<rect x="1595.4" y="455.2" width="13.6" height="13.6" fill="#fff" stroke="#000" stroke-width="2.3"/>
<rect x="1585.4" y="422.9" width="13.6" height="13.6" fill="#fff" stroke="#000" stroke-width="2.3"/>
<rect x="1577.3" y="458.4" width="13.6" height="13.6" fill="#fff" stroke="#000" stroke-width="2.3"/>
<rect x="1570.7" y="440.2" width="13.6" height="13.6" fill="#fff" stroke="#000" stroke-width="2.3"/>
<rect x="1565.1" y="436.8" width="13.6" height="13.6" fill="#fff" stroke="#000" stroke-width="2.3"/>
<rect x="1560.4" y="431.7" width="13.6" height="13.6" fill="#fff" stroke="#000" stroke-width="2.3"/>
<rect x="1556.4" y="420.8" width="13.6" height="13.6" fill="#fff" stroke="#000" stroke-width="2.3"/>
<rect x="1552.9" y="400.4" width="13.6" height="13.6" fill="#fff" stroke="#000" stroke-width="2.3"/>
<rect x="1549.8" y="413.2" width="13.6" height="13.6" fill="#fff" stroke="#000" stroke-width="2.3"/>
<rect x="1547.1" y="478.2" width="13.6" height="13.6" fill="#fff" stroke="#000" stroke-width="2.3"/>
<rect x="1544.7" y="418.6" width="13.6" height="13.6" fill="#fff" stroke="#000" stroke-width="2.3"/>
<rect x="1542.5" y="390.2" width="13.6" height="13.6" fill="#fff" stroke="#000" stroke-width="2.3"/>
<rect x="1540.6" y="403.2" width="13.6" height="13.6" fill="#fff" stroke="#000" stroke-width="2.3"/>
<rect x="1538.8" y="423.2" width="13.6" height="13.6" fill="#fff" stroke="#000" stroke-width="2.3"/>
<rect x="1537.2" y="440.2" width="13.6" height="13.6" fill="#fff" stroke="#000" stroke-width="2.3"/>
<rect x="1535.7" y="433.2" width="13.6" height="13.6" fill="#fff" stroke="#000" stroke-width="2.3"/>
<rect x="1533.2" y="427.8" width="13.6" height="13.6" fill="#fff" stroke="#000" stroke-width="2.3"/>
<rect x="1532.0" y="416.8" width="13.6" height="13.6" fill="#fff" stroke="#000" stroke-width="2.3"/>
<rect x="1530.8" y="405.0" width="13.6" height="13.6" fill="#fff" stroke="#000" stroke-width="2.3"/>
<rect x="1529.8" y="395.8" width="13.6" height="13.6" fill="#fff" stroke="#000" stroke-width="2.3"/>
<rect x="1528.8" y="393.2" width="13.6" height="13.6" fill="#fff" stroke="#000" stroke-width="2.3"/>
<rect x="1527.9" y="390.9" width="13.6" height="13.6" fill="#fff" stroke="#000" stroke-width="2.3"/>
<rect x="1527.0" y="388.0" width="13.6" height="13.6" fill="#fff" stroke="#000" stroke-width="2.3"/>
<rect x="1526.2" y="385.3" width="13.6" height="13.6" fill="#fff" stroke="#000" stroke-width="2.3"/>
<rect x="1525.5" y="382.7" width="13.6" height="13.6" fill="#fff" stroke="#000" stroke-width="2.3"/>
<rect x="1524.8" y="373.3" width="13.6" height="13.6" fill="#fff" stroke="#000" stroke-width="2.3"/>
<rect x="1524.1" y="365.8" width="13.6" height="13.6" fill="#fff" stroke="#000" stroke-width="2.3"/>
<rect x="1523.5" y="360.7" width="13.6" height="13.6" fill="#fff" stroke="#000" stroke-width="2.3"/>
<rect x="1522.9" y="355.8" width="13.6" height="13.6" fill="#fff" stroke="#000" stroke-width="2.3"/>
<rect x="1522.3" y="349.5" width="13.6" height="13.6" fill="#fff" stroke="#000" stroke-width="2.3"/>
<rect x="1521.8" y="343.3" width="13.6" height="13.6" fill="#fff" stroke="#000" stroke-width="2.3"/>
<rect x="1521.3" y="337.3" width="13.6" height="13.6" fill="#fff" stroke="#000" stroke-width="2.3"/>
<rect x="1520.8" y="332.0" width="13.6" height="13.6" fill="#fff" stroke="#000" stroke-width="2.3"/>
<rect x="1520.4" y="327.1" width="13.6" height="13.6" fill="#fff" stroke="#000" stroke-width="2.3"/>
<rect x="1519.9" y="322.4" width="13.6" height="13.6" fill="#fff" stroke="#000" stroke-width="2.3"/>
<rect x="1519.5" y="318.0" width="13.6" height="13.6" fill="#fff" stroke="#000" stroke-width="2.3"/>
<rect x="1519.1" y="313.7" width="13.6" height="13.6" fill="#fff" stroke="#000" stroke-width="2.3"/>
<rect x="1518.7" y="309.6" width="13.6" height="13.6" fill="#fff" stroke="#000" stroke-width="2.3"/>
<rect x="1518.4" y="305.8" width="13.6" height="13.6" fill="#fff" stroke="#000" stroke-width="2.3"/>
<rect x="1518.0" y="302.1" width="13.6" height="13.6" fill="#fff" stroke="#000" stroke-width="2.3"/>
<rect x="1517.7" y="298.6" width="13.6" height="13.6" fill="#fff" stroke="#000" stroke-width="2.3"/>
<rect x="1517.4" y="295.2" width="13.6" height="13.6" fill="#fff" stroke="#000" stroke-width="2.3"/>
<line x1="1527.5" y1="283.3" x2="1525.0" y2="289.1" stroke="#f00" stroke-width="4.6" stroke-linecap="round" stroke-dasharray="13.1 20.7"/>
<line x1="1525.0" y1="289.1" x2="1526.6" y2="299.1" stroke="#f00" stroke-width="4.6" stroke-linecap="round" stroke-dasharray="12.2 19.2"/>
<line x1="1526.6" y1="299.1" x2="1526.1" y2="294.0" stroke="#f00" stroke-width="4.6" stroke-linecap="round" stroke-dasharray="12.1 19.1"/>
<line x1="1526.1" y1="294.0" x2="1526.5" y2="297.7" stroke="#f00" stroke-width="4.6" stroke-linecap="round" stroke-dasharray="12.1 19.1"/>
<line x1="1526.5" y1="297.7" x2="1526.8" y2="301.6" stroke="#f00" stroke-width="4.6" stroke-linecap="round" stroke-dasharray="12.1 19.1"/>
<line x1="1526.8" y1="301.6" x2="1527.2" y2="305.8" stroke="#f00" stroke-width="4.6" stroke-linecap="round" stroke-dasharray="12.1 19.1"/>
<line x1="1527.2" y1="305.8" x2="1527.6" y2="310.1" stroke="#f00" stroke-width="4.6" stroke-linecap="round" stroke-dasharray="12.1 19.1"/>
<line x1="1527.6" y1="310.1" x2="1528.0" y2="314.6" stroke="#f00" stroke-width="4.6" stroke-linecap="round" stroke-dasharray="12.1 19.1"/>
<line x1="1528.0" y1="314.6" x2="1528.5" y2="319.4" stroke="#f00" stroke-width="4.6" stroke-linecap="round" stroke-dasharray="12.1 19.1"/>
<line x1="1528.5" y1="319.4" x2="1528.9" y2="324.3" stroke="#f00" stroke-width="4.6" stroke-linecap="round" stroke-dasharray="12.1 19.1"/>
<line x1="1528.9" y1="324.3" x2="1529.4" y2="329.9" stroke="#f00" stroke-width="4.6" stroke-linecap="round" stroke-dasharray="12.0 19.1"/>
<line x1="1529.4" y1="329.9" x2="1529.9" y2="335.9" stroke="#f00" stroke-width="4.6" stroke-linecap="round" stroke-dasharray="12.0 19.1"/>
<line x1="1529.9" y1="335.9" x2="1530.5" y2="342.2" stroke="#f00" stroke-width="4.6" stroke-linecap="round" stroke-dasharray="12.0 19.1"/>
<line x1="1530.5" y1="342.2" x2="1531.0" y2="348.0" stroke="#f00" stroke-width="4.6" stroke-linecap="round" stroke-dasharray="12.1 19.1"/>
<line x1="1531.0" y1="348.0" x2="1531.6" y2="353.0" stroke="#f00" stroke-width="4.6" stroke-linecap="round" stroke-dasharray="12.1 19.1"/>
<line x1="1531.6" y1="353.0" x2="1532.3" y2="358.2" stroke="#f00" stroke-width="4.6" stroke-linecap="round" stroke-dasharray="12.1 19.1"/>
<line x1="1532.3" y1="358.2" x2="1533.0" y2="367.5" stroke="#f00" stroke-width="4.6" stroke-linecap="round" stroke-dasharray="12.0 19.1"/>
<line x1="1533.0" y1="367.5" x2="1533.7" y2="374.3" stroke="#f00" stroke-width="4.6" stroke-linecap="round" stroke-dasharray="12.1 19.1"/>
<line x1="1533.7" y1="374.3" x2="1534.4" y2="376.9" stroke="#f00" stroke-width="4.6" stroke-linecap="round" stroke-dasharray="12.5 19.8"/>
<line x1="1534.4" y1="376.9" x2="1535.3" y2="379.7" stroke="#f00" stroke-width="4.6" stroke-linecap="round" stroke-dasharray="12.5 19.8"/>
<line x1="1535.3" y1="379.7" x2="1536.1" y2="382.4" stroke="#f00" stroke-width="4.6" stroke-linecap="round" stroke-dasharray="12.6 20.0"/>
<line x1="1536.1" y1="382.4" x2="1537.1" y2="384.8" stroke="#f00" stroke-width="4.6" stroke-linecap="round" stroke-dasharray="12.9 20.4"/>
<line x1="1537.1" y1="384.8" x2="1538.1" y2="387.4" stroke="#f00" stroke-width="4.6" stroke-linecap="round" stroke-dasharray="12.9 20.4"/>
<line x1="1538.1" y1="387.4" x2="1539.2" y2="400.5" stroke="#f00" stroke-width="4.6" stroke-linecap="round" stroke-dasharray="12.0 19.1"/>
<line x1="1539.2" y1="400.5" x2="1540.3" y2="410.8" stroke="#f00" stroke-width="4.6" stroke-linecap="round" stroke-dasharray="12.1 19.1"/>
<line x1="1540.3" y1="410.8" x2="1541.6" y2="419.5" stroke="#f00" stroke-width="4.6" stroke-linecap="round" stroke-dasharray="12.1 19.2"/>
<line x1="1541.6" y1="419.5" x2="1543.0" y2="440.0" stroke="#f00" stroke-width="4.6" stroke-linecap="round" stroke-dasharray="12.0 19.0"/>
<line x1="1543.0" y1="440.0" x2="1544.5" y2="452.0" stroke="#f00" stroke-width="4.6" stroke-linecap="round" stroke-dasharray="12.1 19.1"/>
<line x1="1544.5" y1="452.0" x2="1546.1" y2="455.0" stroke="#f00" stroke-width="4.6" stroke-linecap="round" stroke-dasharray="13.7 21.7"/>
<line x1="1546.1" y1="455.0" x2="1547.9" y2="462.0" stroke="#f00" stroke-width="4.6" stroke-linecap="round" stroke-dasharray="12.4 19.6"/>
<line x1="1547.9" y1="462.0" x2="1549.9" y2="474.0" stroke="#f00" stroke-width="4.6" stroke-linecap="round" stroke-dasharray="12.2 19.3"/>
<line x1="1549.9" y1="474.0" x2="1552.2" y2="451.6" stroke="#f00" stroke-width="4.6" stroke-linecap="round" stroke-dasharray="12.1 19.1"/>
<line x1="1552.2" y1="451.6" x2="1554.7" y2="470.0" stroke="#f00" stroke-width="4.6" stroke-linecap="round" stroke-dasharray="12.1 19.2"/>
<line x1="1554.7" y1="470.0" x2="1557.5" y2="490.5" stroke="#f00" stroke-width="4.6" stroke-linecap="round" stroke-dasharray="12.1 19.2"/>
<line x1="1557.5" y1="490.5" x2="1560.7" y2="489.5" stroke="#f00" stroke-width="4.6" stroke-linecap="round" stroke-dasharray="12.6 19.9"/>
<line x1="1560.7" y1="489.5" x2="1564.3" y2="539.0" stroke="#f00" stroke-width="4.6" stroke-linecap="round" stroke-dasharray="12.0 19.1"/>
<line x1="1564.3" y1="539.0" x2="1568.5" y2="410.0" stroke="#f00" stroke-width="4.6" stroke-linecap="round" stroke-dasharray="12.0 19.0"/>
<line x1="1568.5" y1="410.0" x2="1573.5" y2="481.6" stroke="#f00" stroke-width="4.6" stroke-linecap="round" stroke-dasharray="12.0 19.0"/>
<line x1="1573.5" y1="481.6" x2="1579.3" y2="486.0" stroke="#f00" stroke-width="4.6" stroke-linecap="round" stroke-dasharray="15.0 23.8"/>
<line x1="1579.3" y1="486.0" x2="1586.3" y2="498.0" stroke="#f00" stroke-width="4.6" stroke-linecap="round" stroke-dasharray="13.9 22.0"/>
<line x1="1586.3" y1="498.0" x2="1595.0" y2="474.1" stroke="#f00" stroke-width="4.6" stroke-linecap="round" stroke-dasharray="12.8 20.2"/>
<line x1="1595.0" y1="474.1" x2="1605.8" y2="696.5" stroke="#f00" stroke-width="4.6" stroke-linecap="round" stroke-dasharray="12.0 19.0"/>
<line x1="1605.8" y1="696.5" x2="1619.7" y2="418.0" stroke="#f00" stroke-width="4.6" stroke-linecap="round" stroke-dasharray="12.0 19.0"/>
<line x1="1619.7" y1="418.0" x2="1638.5" y2="445.3" stroke="#f00" stroke-width="4.6" stroke-linecap="round" stroke-dasharray="14.6 23.0"/>
<line x1="1638.5" y1="445.3" x2="1664.9" y2="581.5" stroke="#f00" stroke-width="4.6" stroke-linecap="round" stroke-dasharray="12.2 19.4"/>
<line x1="1664.9" y1="581.5" x2="1705.2" y2="419.5" stroke="#f00" stroke-width="4.6" stroke-linecap="round" stroke-dasharray="12.4 19.6"/>
<line x1="1705.2" y1="419.5" x2="1773.6" y2="447.2" stroke="#f00" stroke-width="4.6" stroke-linecap="round" stroke-dasharray="12.9 20.5"/>
<line x1="1773.6" y1="447.2" x2="1916.0" y2="390.4" stroke="#f00" stroke-width="4.6" stroke-linecap="round" stroke-dasharray="12.9 20.5"/>
<line x1="1916.0" y1="390.4" x2="2396.4" y2="124.3" stroke="#f00" stroke-width="4.6" stroke-linecap="round" stroke-dasharray="13.7 21.7"/>
<circle cx="2396.4" cy="124.3" r="7.1" fill="#fff" stroke="#f00" stroke-width="2.5"/>
<circle cx="1916.0" cy="390.4" r="7.1" fill="#fff" stroke="#f00" stroke-width="2.5"/>
<circle cx="1773.6" cy="447.2" r="7.1" fill="#fff" stroke="#f00" stroke-width="2.5"/>
<circle cx="1705.2" cy="419.5" r="7.1" fill="#fff" stroke="#f00" stroke-width="2.5"/>
<circle cx="1664.9" cy="581.5" r="7.1" fill="#fff" stroke="#f00" stroke-width="2.5"/>
<circle cx="1638.5" cy="445.3" r="7.1" fill="#fff" stroke="#f00" stroke-width="2.5"/>
<circle cx="1619.7" cy="418.0" r="7.1" fill="#fff" stroke="#f00" stroke-width="2.5"/>
<circle cx="1605.8" cy="696.5" r="7.1" fill="#fff" stroke="#f00" stroke-width="2.5"/>
<circle cx="1595.0" cy="474.1" r="7.1" fill="#fff" stroke="#f00" stroke-width="2.5"/>
<circle cx="1586.3" cy="498.0" r="7.1" fill="#fff" stroke="#f00" stroke-width="2.5"/>
<circle cx="1579.3" cy="486.0" r="7.1" fill="#fff" stroke="#f00" stroke-width="2.5"/>
<circle cx="1573.5" cy="481.6" r="7.1" fill="#fff" stroke="#f00" stroke-width="2.5"/>
<circle cx="1568.5" cy="410.0" r="7.1" fill="#fff" stroke="#f00" stroke-width="2.5"/>
<circle cx="1564.3" cy="539.0" r="7.1" fill="#fff" stroke="#f00" stroke-width="2.5"/>
<circle cx="1560.7" cy="489.5" r="7.1" fill="#fff" stroke="#f00" stroke-width="2.5"/>
<circle cx="1557.5" cy="490.5" r="7.1" fill="#fff" stroke="#f00" stroke-width="2.5"/>
<circle cx="1554.7" cy="470.0" r="7.1" fill="#fff" stroke="#f00" stroke-width="2.5"/>
<circle cx="1552.2" cy="451.6" r="7.1" fill="#fff" stroke="#f00" stroke-width="2.5"/>
<circle cx="1549.9" cy="474.0" r="7.1" fill="#fff" stroke="#f00" stroke-width="2.5"/>
<circle cx="1547.9" cy="462.0" r="7.1" fill="#fff" stroke="#f00" stroke-width="2.5"/>
<circle cx="1546.1" cy="455.0" r="7.1" fill="#fff" stroke="#f00" stroke-width="2.5"/>
<circle cx="1544.5" cy="452.0" r="7.1" fill="#fff" stroke="#f00" stroke-width="2.5"/>
<circle cx="1543.0" cy="440.0" r="7.1" fill="#fff" stroke="#f00" stroke-width="2.5"/>
<circle cx="1541.6" cy="419.5" r="7.1" fill="#fff" stroke="#f00" stroke-width="2.5"/>
<circle cx="1540.3" cy="410.8" r="7.1" fill="#fff" stroke="#f00" stroke-width="2.5"/>
<circle cx="1539.2" cy="400.5" r="7.1" fill="#fff" stroke="#f00" stroke-width="2.5"/>
<circle cx="1538.1" cy="387.4" r="7.1" fill="#fff" stroke="#f00" stroke-width="2.5"/>
<circle cx="1537.1" cy="384.8" r="7.1" fill="#fff" stroke="#f00" stroke-width="2.5"/>
<circle cx="1536.1" cy="382.4" r="7.1" fill="#fff" stroke="#f00" stroke-width="2.5"/>
<circle cx="1535.3" cy="379.7" r="7.1" fill="#fff" stroke="#f00" stroke-width="2.5"/>
<circle cx="1534.4" cy="376.9" r="7.1" fill="#fff" stroke="#f00" stroke-width="2.5"/>
<circle cx="1533.7" cy="374.3" r="7.1" fill="#fff" stroke="#f00" stroke-width="2.5"/>
<circle cx="1533.0" cy="367.5" r="7.1" fill="#fff" stroke="#f00" stroke-width="2.5"/>
<circle cx="1532.3" cy="358.2" r="7.1" fill="#fff" stroke="#f00" stroke-width="2.5"/>
<circle cx="1531.6" cy="353.0" r="7.1" fill="#fff" stroke="#f00" stroke-width="2.5"/>
<circle cx="1531.0" cy="348.0" r="7.1" fill="#fff" stroke="#f00" stroke-width="2.5"/>
<circle cx="1530.5" cy="342.2" r="7.1" fill="#fff" stroke="#f00" stroke-width="2.5"/>
<circle cx="1529.9" cy="335.9" r="7.1" fill="#fff" stroke="#f00" stroke-width="2.5"/>
<circle cx="1529.4" cy="329.9" r="7.1" fill="#fff" stroke="#f00" stroke-width="2.5"/>
<circle cx="1528.9" cy="324.3" r="7.1" fill="#fff" stroke="#f00" stroke-width="2.5"/>
<circle cx="1528.5" cy="319.4" r="7.1" fill="#fff" stroke="#f00" stroke-width="2.5"/>
<circle cx="1528.0" cy="314.6" r="7.1" fill="#fff" stroke="#f00" stroke-width="2.5"/>
<circle cx="1527.6" cy="310.1" r="7.1" fill="#fff" stroke="#f00" stroke-width="2.5"/>
<circle cx="1527.2" cy="305.8" r="7.1" fill="#fff" stroke="#f00" stroke-width="2.5"/>
<circle cx="1526.8" cy="301.6" r="7.1" fill="#fff" stroke="#f00" stroke-width="2.5"/>
<circle cx="1526.5" cy="297.7" r="7.1" fill="#fff" stroke="#f00" stroke-width="2.5"/>
<circle cx="1526.1" cy="294.0" r="7.1" fill="#fff" stroke="#f00" stroke-width="2.5"/>
<circle cx="1526.6" cy="299.1" r="7.1" fill="#fff" stroke="#f00" stroke-width="2.5"/>
<circle cx="1525.0" cy="289.1" r="7.1" fill="#fff" stroke="#f00" stroke-width="2.5"/>
<circle cx="1527.5" cy="283.3" r="7.1" fill="#fff" stroke="#f00" stroke-width="2.5"/>
<path d="M1584.5 268.7 V716" stroke="#000" stroke-width="2.5" stroke-dasharray="14 9.4" fill="none"/>
<path d="M1661.4 272.5 V716" stroke="#000" stroke-width="2.5" stroke-dasharray="14 9.4" fill="none"/>
<line x1="1770.5" y1="628.8" x2="1601.7" y2="709.7" stroke="#000" stroke-width="3.3" />
<path d="M1585.5 717.5 L1600.9 703.4 L1606.1 714.3 Z" fill="#000"/>
<line x1="1780.5" y1="628.8" x2="1672.1" y2="704.5" stroke="#000" stroke-width="3.3" />
<path d="M1657.3 714.8 L1670.3 698.4 L1677.1 708.3 Z" fill="#000"/>
<line x1="2031.0" y1="383.0" x2="2102.0" y2="383.0" stroke="#000" stroke-width="4.2" stroke-linecap="round"/>
<rect x="2060.1" y="376.2" width="12.7" height="12.7" fill="#fff" stroke="#000" stroke-width="2.0"/>
<text x="2116.7" y="393.9" font-size="51.2" fill="#000" font-family='"Liberation Sans", sans-serif' font-weight="normal" style="letter-spacing:0.59px">negative V</text>
<line x1="2032.0" y1="446.7" x2="2043.5" y2="446.7" stroke="#f00" stroke-width="5.0" stroke-linecap="round"/>
<line x1="2092.5" y1="446.7" x2="2101.5" y2="446.7" stroke="#f00" stroke-width="5.0" stroke-linecap="round"/>
<circle cx="2065.9" cy="446.3" r="7.1" fill="#fff" stroke="#f00" stroke-width="2.5"/>
<text x="2117.1" y="457.7" font-size="51.2" fill="#000" font-family='"Liberation Sans", sans-serif' font-weight="normal" style="letter-spacing:0.57px">positive V</text>
<text x="1736.8" y="599.6" font-size="51.2" fill="#000" font-family='"Liberation Sans", sans-serif' font-weight="normal" style="letter-spacing:0.65px">1/V</text>
<text x="1813.9" y="619.6" font-size="30" fill="#000" font-family='"Liberation Sans", sans-serif' font-weight="normal" style="letter-spacing:1.50px">TH</text>
<text x="1869.0" y="599.6" font-size="51.2" fill="#000" font-family='"Liberation Sans", sans-serif' font-weight="normal" style="">,</text>
<text x="1928.2" y="599.6" font-size="51.2" fill="#000" font-family='"Liberation Sans", sans-serif' font-weight="normal" style="letter-spacing:0.65px">where V</text>
<text x="2119.3" y="619.6" font-size="30" fill="#000" font-family='"Liberation Sans", sans-serif' font-weight="normal" style="letter-spacing:0.80px">TH</text>
<text x="2174.9" y="599.6" font-size="51.2" fill="#000" font-family='"Liberation Sans", sans-serif' font-weight="normal" style="letter-spacing:0.53px">= 1; 0.5 V</text>
<text transform="translate(1895.0,938.0) scale(0.82,1)" font-size="63.5" fill="#000" font-family='"Liberation Serif", serif' font-weight="normal" style="">(</text>
<text transform="translate(1915.3,938.3) scale(1.0,1)" font-size="66.5" fill="#000" font-family='"Liberation Serif", serif' font-weight="bold" style="">b</text>
<text transform="translate(1953.7,938.0) scale(0.82,1)" font-size="63.5" fill="#000" font-family='"Liberation Serif", serif' font-weight="normal" style="">)</text>
</g>
</svg>
</body></html>
